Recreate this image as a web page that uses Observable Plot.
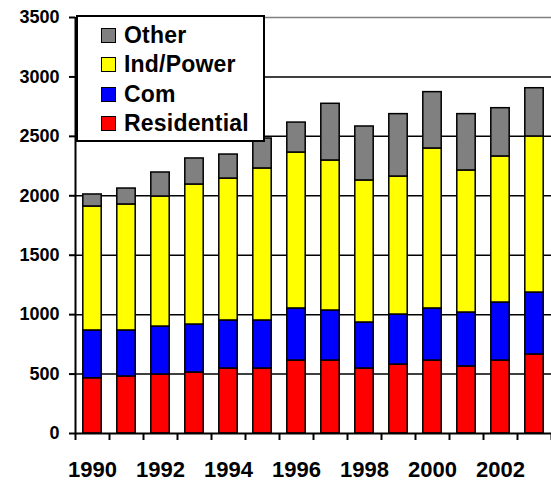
<!DOCTYPE html>
<html>
<head>
<meta charset="utf-8">
<script src="https://cdn.jsdelivr.net/npm/d3@7"></script>
<script src="https://cdn.jsdelivr.net/npm/@observablehq/plot@0.6"></script>
<style>
  html, body { margin: 0; padding: 0; background: white; }
  #wrap { position: relative; width: 551px; height: 482px; overflow: hidden; }
  #legend {
    position: absolute; left: 76px; top: 15px; width: 185px; height: 123px;
    border: 2px solid black; background: white; box-sizing: content-box;
    font-family: "Liberation Sans", Arial, sans-serif; font-weight: bold; font-size: 23px;
    letter-spacing: 0.2px;
  }
  .row { position: absolute; left: 23px; height: 24px; display: flex; align-items: center; }
  .sw { width: 13px; height: 13px; border: 1.5px solid black; margin-right: 8px; }
</style>
</head>
<body>
<div id="wrap"></div>
<script>
// ---- data ----
const years = [1990, 1991, 1992, 1993, 1994, 1995, 1996, 1997, 1998, 1999, 2000, 2001, 2002, 2003];
const residential = [465, 480, 496, 513, 547, 547, 614, 614, 547, 580, 614, 564, 614, 665];
const com         = [402, 387, 404, 404, 404, 404, 438, 421, 387, 421, 438, 454, 488, 521];
const indPower    = [1043, 1060, 1094, 1178, 1194, 1279, 1312, 1262, 1195, 1161, 1346, 1195, 1229, 1313];
const other       = [101, 134, 202, 219, 202, 252, 252, 477, 454, 525, 474, 474, 406, 406];
const seriesNames = ["Residential", "Com", "Ind/Power", "Other"];
const legendOrder = ["Other", "Ind/Power", "Com", "Residential"];
const xTickLabels = [1990, 1992, 1994, 1996, 1998, 2000, 2002];
const yTicks = [0, 500, 1000, 1500, 2000, 2500, 3000, 3500];

// ---- styles ----
const colors = {"Residential": "#ff0000", "Com": "#0000ff", "Ind/Power": "#ffff00", "Other": "#808080"};

const seriesValues = {"Residential": residential, "Com": com, "Ind/Power": indPower, "Other": other};
const rows = years.flatMap((yr, i) => {
  let acc = 0;
  return seriesNames.map(s => {
    const y1 = acc; acc += seriesValues[s][i];
    return {year: yr, series: s, y1, y2: acc};
  });
});
const boundaries = years.map(y => y - 0.5).concat([years[years.length - 1] + 0.5]);

const chart = Plot.plot({
  width: 551, height: 482,
  marginLeft: 75, marginRight: 0, marginTop: 17, marginBottom: 49,
  style: {fontFamily: "'Liberation Sans', Arial, sans-serif", fontWeight: "bold", color: "black", background: "white", overflow: "visible"},
  x: {type: "linear", domain: [boundaries[0], boundaries[boundaries.length - 1]]},
  y: {domain: [0, 3500]},
  color: {domain: seriesNames, range: seriesNames.map(s => colors[s])},
  marks: [
    Plot.ruleY(yTicks.filter(t => t > 0 && t < 3500), {stroke: "black", strokeWidth: 1.5}),
    Plot.ruleY([3500], {stroke: "#808080", strokeWidth: 1.5}),
    Plot.rect(rows, {x1: d => d.year - 0.5, x2: d => d.year + 0.5, y1: "y1", y2: "y2",
      fill: "series", stroke: "black", strokeWidth: 1.5, insetLeft: 7.8, insetRight: 7.8}),
    Plot.ruleX([boundaries[0]], {stroke: "black", strokeWidth: 2}),
    Plot.ruleY([0], {stroke: "black", strokeWidth: 2}),
    Plot.axisY(yTicks, {tickSize: 6, tickPadding: 10, fontSize: 18, tickFormat: d => String(d),
      label: null, stroke: "black", strokeWidth: 2, style: "letter-spacing:1px"}),
    Plot.axisX(boundaries, {tickSize: 7, tickFormat: () => "", label: null, stroke: "black", strokeWidth: 2}),
    Plot.axisX(xTickLabels, {tickSize: 0, tickPadding: 28, fontSize: 22, tickFormat: d => String(d),
      label: null, style: "letter-spacing:1.5px"})
  ]
});
const wrap = document.getElementById("wrap");
wrap.appendChild(chart);

const legend = document.createElement("div");
legend.id = "legend";
legendOrder.forEach((s, i) => {
  const row = document.createElement("div");
  row.className = "row";
  row.style.top = (6 + i * 29.5) + "px";
  const sw = document.createElement("span");
  sw.className = "sw";
  sw.style.background = colors[s];
  const tx = document.createElement("span");
  tx.textContent = s;
  row.appendChild(sw); row.appendChild(tx);
  legend.appendChild(row);
});
wrap.appendChild(legend);
</script>
</body>
</html>
